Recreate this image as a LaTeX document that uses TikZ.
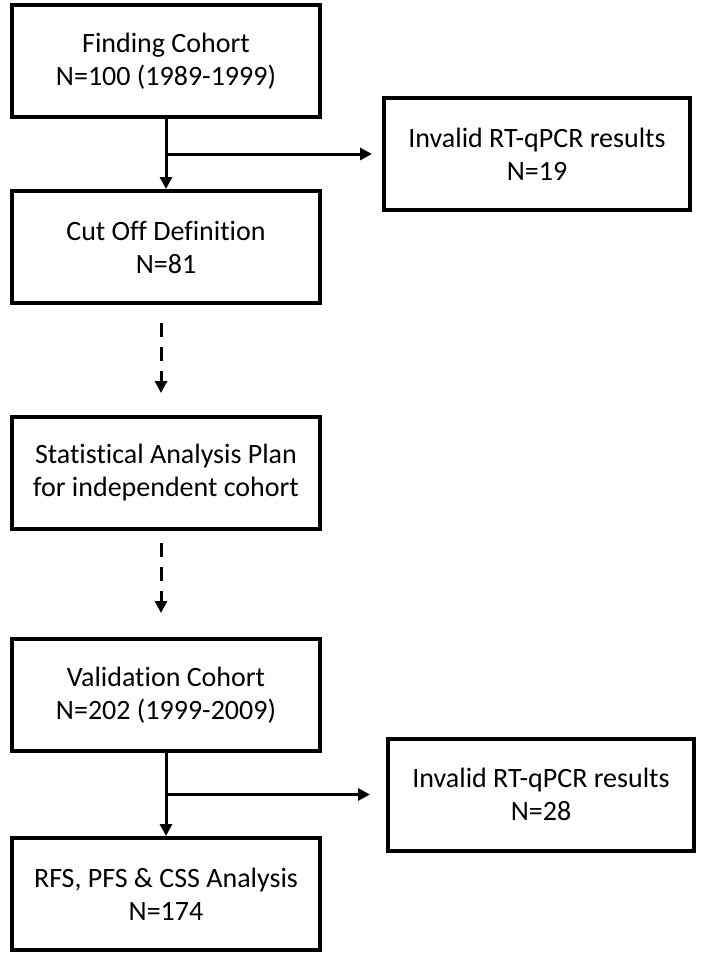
\documentclass[tikz,border=0pt]{standalone}
\usepackage{fontspec}
\setmainfont{Carlito}[Ligatures=NoCommon]
\usepackage{tikz}
\usetikzlibrary{positioning, calc, arrows.meta}
\tikzset{
    base/.style={
        font=\fontsize{28}{33}\selectfont,
        align=center
    },
    stage/.style={
        base,
        rectangle,
        draw=black,
        line width=4pt,
        fill=white,
        minimum width=308pt,
        minimum height=112pt,
        inner sep=0pt
    },
    excluded/.style={
        stage,
        minimum width=306pt
    },
    flow/.style={
        -{Triangle[length=12pt, width=12pt]},
        line width=3pt,
        color=black
    },
    planned/.style={
        flow,
        dash pattern=on 14pt off 10pt
    }
}
\begin{document}
\begin{tikzpicture}[x=1pt, y=-1pt]
  \useasboundingbox (0,0) rectangle (705,958);

  % Stages
  \node[stage] (find) at (166,61) {Finding Cohort\\N=100 (1989-1999)};
  \node[stage, below=70pt of find] (cutoff) {Cut Off Definition\\N=81};
  \node[stage, below=110pt of cutoff] (plan) {Statistical Analysis Plan\\for independent cohort};
  \node[stage, below=106pt of plan] (valid) {Validation Cohort\\N=202 (1999-2009)};
  \node[stage, below=83pt of valid] (rfs) {RFS, PFS \& CSS Analysis\\N=174};

  % Exclusions
  \coordinate (split1) at ($(find.south)!0.5!(cutoff.north)$);
  \coordinate (split2) at ($(valid.south)!0.5!(rfs.north)$);
  \node[excluded, right=216pt of split1] (inv1) {Invalid RT-qPCR results\\N=19};
  \node[excluded, right=220pt of split2] (inv2) {Invalid RT-qPCR results\\N=28};

  % Connections
  \draw[flow] (find) -- (cutoff);
  \draw[flow, shorten >=10pt] (split1) -- (inv1);
  \draw[planned, shorten <=18pt, shorten >=22pt] ([xshift=-5pt]cutoff.south) -- ([xshift=-5pt]plan.north);
  \draw[planned, shorten <=12pt, shorten >=24pt] ([xshift=-5pt]plan.south) -- ([xshift=-5pt]valid.north);
  \draw[flow] (valid) -- (rfs);
  \draw[flow, shorten >=16pt] (split2) -- (inv2);
\end{tikzpicture}
\end{document}
